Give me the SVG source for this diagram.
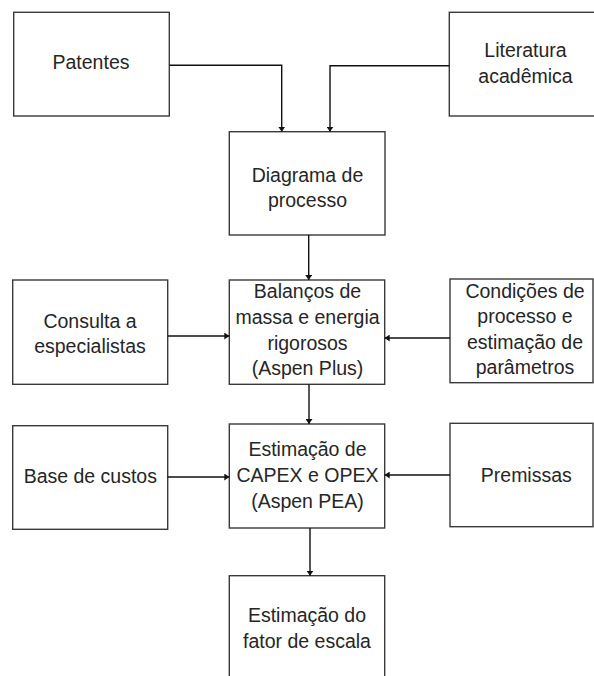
<svg xmlns="http://www.w3.org/2000/svg" width="594" height="676" viewBox="0 0 594 676">
<defs>
<marker id="arr" viewBox="0 0 5 7" refX="5" refY="3.5" markerWidth="5" markerHeight="7" markerUnits="userSpaceOnUse" orient="auto">
<path d="M0,0 L5,3.5 L0,7 Z" fill="#111"/>
</marker>
<style>
.box{fill:#fff;stroke:#3a3a3a;stroke-width:1.4}
.t{font-family:"Liberation Sans",Arial,sans-serif;font-size:19.5px;fill:#262626;text-anchor:middle}
.c{fill:none;stroke:#111;stroke-width:1.4;marker-end:url(#arr)}
</style>
</defs>
<rect width="594" height="676" fill="#fff"/>
<g id="patentes"><rect class="box" x="13.7" y="12.3" width="155.6" height="103.7"/><text class="t" x="91" y="69">Patentes</text></g>
<g id="literatura"><rect class="box" x="449.3" y="12.3" width="150" height="103.7"/><text class="t" x="525.5" y="57">Literatura</text><text class="t" x="525.5" y="83">acadêmica</text></g>
<g id="diagrama"><rect class="box" x="229.3" y="131.7" width="155.7" height="103.3"/><text class="t" x="307.5" y="182">Diagrama de</text><text class="t" x="307.5" y="207">processo</text></g>
<g id="consulta"><rect class="box" x="12.7" y="280" width="155" height="104.3"/><text class="t" x="90" y="328">Consulta a</text><text class="t" x="90" y="353">especialistas</text></g>
<g id="balancos"><rect class="box" x="229.3" y="280" width="155.4" height="104.3"/><text class="t" x="307.5" y="298">Balanços de</text><text class="t" x="307.5" y="324">massa e energia</text><text class="t" x="307.5" y="350">rigorosos</text><text class="t" x="307.5" y="375">(Aspen Plus)</text></g>
<g id="condicoes"><rect class="box" x="450" y="279" width="143" height="103.7"/><text class="t" x="525" y="298">Condições de</text><text class="t" x="525" y="323">processo e</text><text class="t" x="525" y="349">estimação de</text><text class="t" x="525" y="374">parâmetros</text></g>
<g id="base"><rect class="box" x="12.7" y="425.7" width="155" height="103.6"/><text class="t" x="90.3" y="483">Base de custos</text></g>
<g id="estimacao"><rect class="box" x="229.3" y="424" width="155.4" height="104"/><text class="t" x="307.5" y="456">Estimação de</text><text class="t" x="307.5" y="482">CAPEX e OPEX</text><text class="t" x="307.5" y="508">(Aspen PEA)</text></g>
<g id="premissas"><rect class="box" x="450" y="423.3" width="143" height="103.4"/><text class="t" x="526.3" y="481.5">Premissas</text></g>
<g id="fator"><rect class="box" x="229.3" y="575.7" width="155.4" height="110"/><text class="t" x="307" y="621.5">Estimação do</text><text class="t" x="307" y="648">fator de escala</text></g>
<g id="connectors">
<path class="c" d="M169.3,65.3 H281.7 V131.7"/>
<path class="c" d="M449.3,65.7 H330 V131.7"/>
<path class="c" d="M308.7,235 V280"/>
<path class="c" d="M167.7,336 H229.3"/>
<path class="c" d="M450,338 H384.7"/>
<path class="c" d="M309,384.3 V424"/>
<path class="c" d="M167.7,477 H229.3"/>
<path class="c" d="M450,475 H384.7"/>
<path class="c" d="M310,528 V575.7"/>
</g>
</svg>
